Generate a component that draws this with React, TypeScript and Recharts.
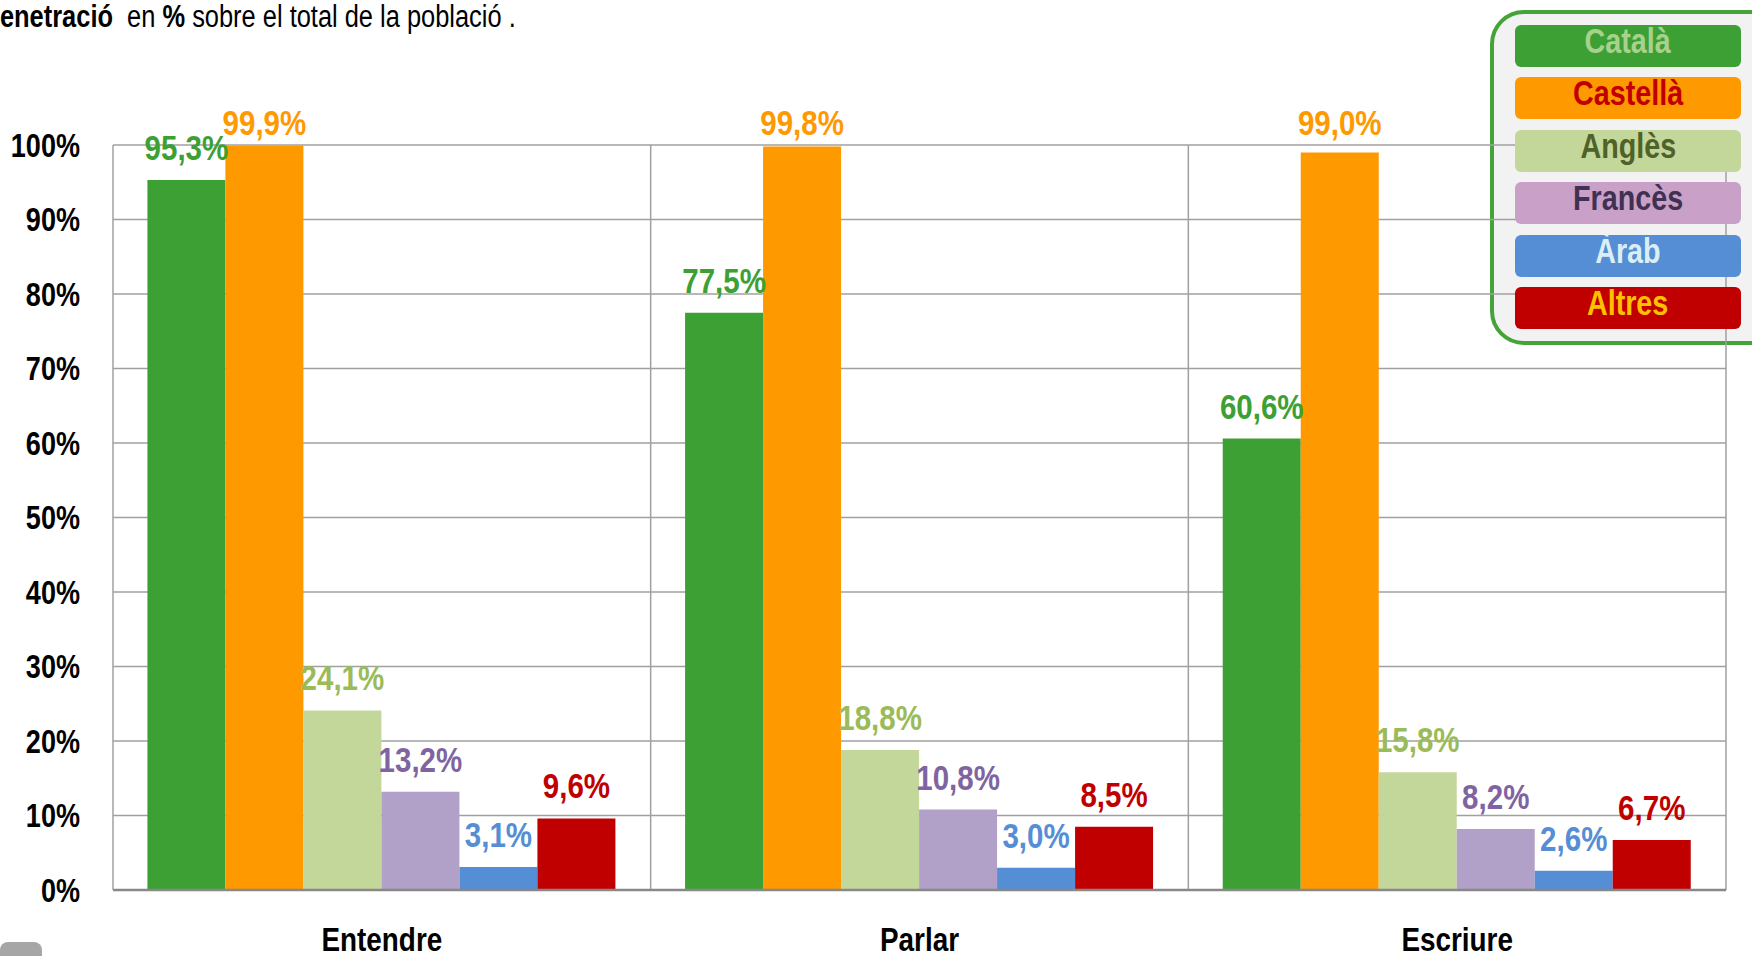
import React from 'react';
import { BarChart, Bar, XAxis, YAxis, CartesianGrid, LabelList } from 'recharts';

const categories = ['Entendre', 'Parlar', 'Escriure'];
const catala = [95.3, 77.5, 60.6];
const castella = [99.9, 99.8, 99.0];
const angles = [24.1, 18.8, 15.8];
const frances = [13.2, 10.8, 8.2];
const arab = [3.1, 3.0, 2.6];
const altres = [9.6, 8.5, 6.7];
const yTicks = [0, 10, 20, 30, 40, 50, 60, 70, 80, 90, 100];

const series = [
  { key: 'catala', name: 'Català', values: catala, fill: '#3da035', label: '#3da035', legendText: '#a9d18e', legendFill: '#3da035' },
  { key: 'castella', name: 'Castellà', values: castella, fill: '#ff9900', label: '#ff9900', legendText: '#c00000', legendFill: '#ff9900' },
  { key: 'angles', name: 'Anglès', values: angles, fill: '#c4d79b', label: '#9bbb59', legendText: '#4f6228', legendFill: '#c4d79b' },
  { key: 'frances', name: 'Francès', values: frances, fill: '#b1a0c7', label: '#8064a2', legendText: '#403152', legendFill: '#c9a0c8' },
  { key: 'arab', name: 'Àrab', values: arab, fill: '#558ed5', label: '#558ed5', legendText: '#dbeef4', legendFill: '#558ed5' },
  { key: 'altres', name: 'Altres', values: altres, fill: '#c00000', label: '#c00000', legendText: '#ffc000', legendFill: '#c00000' },
];

const data = categories.map((c, i) => {
  const row: any = { name: c };
  series.forEach((s) => { row[s.key] = s.values[i]; });
  return row;
});

const FONT = '"Liberation Sans", Arial, sans-serif';
const NARROW = 0.82;
const fmt = (v: any) => `${Number(v).toFixed(1).replace('.', ',')}%`;

const YTick = (props: any) => {
  const { x, y, payload } = props;
  return (
    <text transform={`translate(${x},${y}) scale(${NARROW},1)`} x={0} y={0} dy="0.355em" textAnchor="end"
      fill="#000" fontSize={33} fontWeight={700} fontFamily={FONT}>
      {`${payload.value}%`}
    </text>
  );
};

const XTick = (props: any) => {
  const { x, y, payload } = props;
  return (
    <text transform={`translate(${x},${y}) scale(${NARROW},1)`} x={0} y={61} textAnchor="middle"
      fill="#000" fontSize={34} fontWeight={700} fontFamily={FONT}>
      {payload.value}
    </text>
  );
};

const makeLabel = (color: string) => (props: any) => {
  const { x, y, width, value } = props;
  const cx = Number(x) + Number(width) / 2;
  const by = Math.max(Number(y) - 20, 135);
  return (
    <text transform={`translate(${cx},${by}) scale(${NARROW},1)`} x={0} y={0} textAnchor="middle"
      fill={color} fontSize={36} fontWeight={700} fontFamily={FONT}>
      {fmt(value)}
    </text>
  );
};

const narrowSpan: React.CSSProperties = { display: 'inline-block', transform: `scaleX(${NARROW})`, whiteSpace: 'pre' };

export default function App() {
  return (
    <div style={{ position: 'absolute', left: 0, top: 0, width: 1752, height: 956, overflow: 'hidden', background: '#ffffff', fontFamily: FONT }}>
      <div style={{ position: 'absolute', left: 1490, top: 10, width: 300, height: 327, border: '4px solid #46a33a', borderRadius: 34, background: '#f2f2f2', boxSizing: 'content-box' }} />
      <div style={{ position: 'absolute', left: -17, top: -1, fontSize: 31, lineHeight: '35px', color: '#000', whiteSpace: 'pre', fontFamily: FONT, transformOrigin: '0 0', transform: `scaleX(${NARROW})` }}>
        <b>Penetració</b>{'  en '}<b>%</b>{' sobre el total de la població .'}
      </div>
      <div style={{ position: 'absolute', left: 0, top: 0 }}>
        <BarChart width={1752} height={956} data={data} margin={{ top: 145, right: 26, bottom: 0, left: 0 }} barCategoryGap="6.4%" barGap={0}>
          <CartesianGrid
            stroke="#a0a0a0"
            strokeWidth={1.5}
            verticalCoordinatesGenerator={({ offset }: any) => [1, 2, 3].map((i) => offset.left + (offset.width * i) / 3)}
          />
          <XAxis dataKey="name" height={66} axisLine={{ stroke: '#888888', strokeWidth: 2.5 }} tickLine={false} tickSize={0} tickMargin={0}
            tick={<XTick />} />
          <YAxis domain={[0, 100]} ticks={yTicks} width={113} axisLine={{ stroke: '#a0a0a0', strokeWidth: 1.5 }} tickLine={false} tickSize={0} tickMargin={33}
            interval={0} tick={<YTick />} />
          {series.map((s) => (
            <Bar key={s.key} dataKey={s.key} name={s.name} fill={s.fill} isAnimationActive={false}>
              <LabelList dataKey={s.key} content={makeLabel(s.label)} />
            </Bar>
          ))}
        </BarChart>
      </div>
      {series.map((s, i) => (
        <div key={s.key} style={{ position: 'absolute', left: 1515, top: 25 + i * 52.4, width: 226, height: 42, background: s.legendFill, borderRadius: 6, color: s.legendText, fontSize: 35, fontWeight: 700, textAlign: 'center', lineHeight: '31px', fontFamily: FONT, overflow: 'hidden' }}>
          <span style={narrowSpan}>{s.name}</span>
        </div>
      ))}
      <div style={{ position: 'absolute', left: 0, top: 942, width: 42, height: 30, background: '#a6a6a6', borderRadius: 8 }} />
    </div>
  );
}
